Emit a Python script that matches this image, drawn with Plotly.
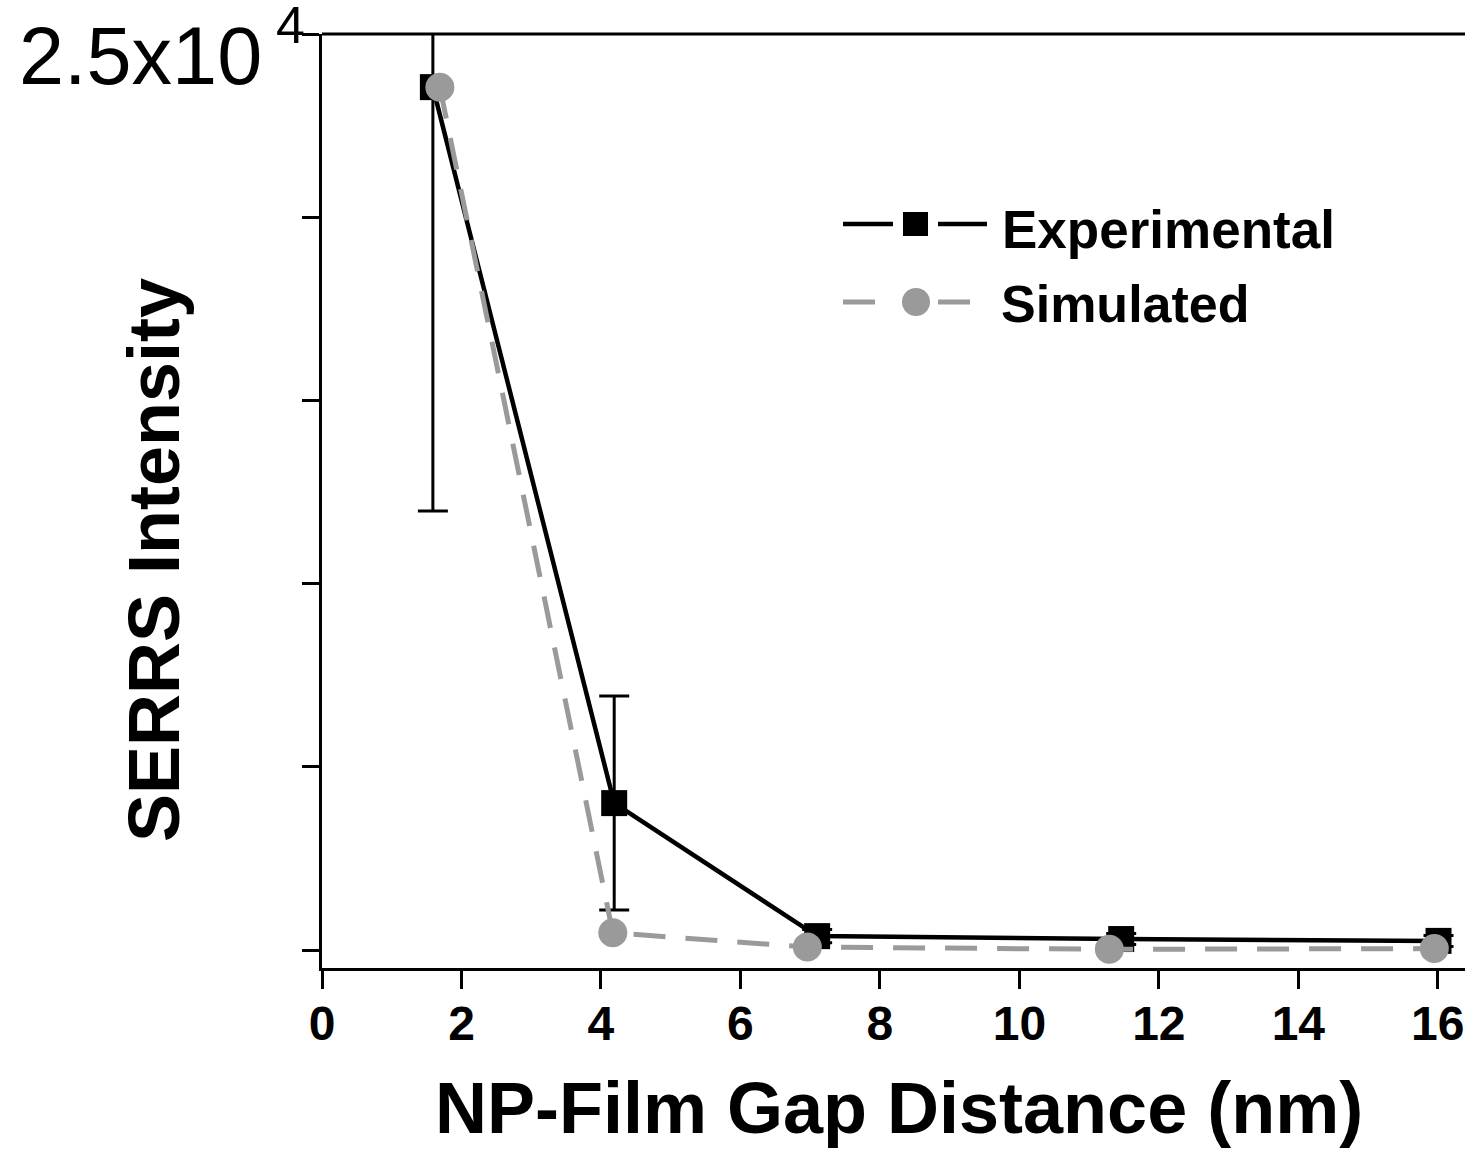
import plotly.graph_objects as go

# ---- data ----
exp_x = [1.59, 4.19, 7.10, 11.46, 16.01]
exp_y = [23550, 4010, 380, 300, 250]
exp_err = [11570, 2920, 180, 150, 150]

sim_x = [1.69, 4.17, 6.96, 11.29, 15.95]
sim_y = [23550, 470, 80, 20, 40]

x_ticks = [0, 2, 4, 6, 8, 10, 12, 14, 16]
y_ticks = [0, 5000, 10000, 15000, 20000, 25000]

W, H = 1468, 1149
L, R, T, B = 322, 3, 34, 181
PW, PH = W - L - R, H - T - B

def px(x):
    return (x - L) / PW

def py(y):
    return (H - B - y) / PH

FONT = "Liberation Sans, Arial, sans-serif"
GRAY = "#9a9a9a"

fig = go.Figure()
fig.add_trace(go.Scatter(
    x=exp_x, y=exp_y, mode="lines+markers", name="Experimental",
    line=dict(color="black", width=4.5),
    marker=dict(symbol="square", size=26, color="black"),
    error_y=dict(type="data", array=exp_err, visible=True, color="black",
                 thickness=3, width=15),
    cliponaxis=True, showlegend=False,
))
fig.add_trace(go.Scatter(
    x=sim_x, y=sim_y, mode="lines+markers", name="Simulated",
    line=dict(color=GRAY, width=5, dash="32px,20px"),
    marker=dict(symbol="circle", size=29, color=GRAY),
    cliponaxis=False, showlegend=False,
))

fig.update_layout(
    width=W, height=H,
    margin=dict(l=L, r=R, t=T, b=B, pad=0),
    plot_bgcolor="white", paper_bgcolor="white",
    font=dict(family=FONT, color="black"),
    showlegend=False,
)
fig.update_xaxes(
    range=[0, 16.39], tickvals=x_ticks, ticktext=[str(v) for v in x_ticks],
    ticks="outside", ticklen=18, tickwidth=3, tickcolor="black",
    showline=True, linewidth=3, linecolor="black", mirror=False,
    showgrid=False, zeroline=False, ticklabelstandoff=-7,
    tickfont=dict(family=FONT, size=48, color="black", weight="bold"),
)
fig.update_yaxes(
    range=[-490, 25000], tickvals=y_ticks, showticklabels=False,
    ticks="outside", ticklen=17, tickwidth=3, tickcolor="black",
    showline=True, linewidth=3, linecolor="black",
    showgrid=False, zeroline=False,
)

# top border line
fig.add_shape(type="line", xref="paper", yref="paper", x0=0, x1=1, y0=1, y1=1,
              line=dict(color="black", width=3))

# axis titles and top tick label
fig.add_annotation(text="NP-Film Gap Distance (nm)", xref="paper", yref="paper",
                   x=px(899), y=py(1108), xanchor="center", yanchor="middle",
                   showarrow=False, font=dict(family=FONT, size=72, weight="bold"))
fig.add_annotation(text="SERRS Intensity", xref="paper", yref="paper",
                   x=px(154), y=py(560), xanchor="center", yanchor="middle",
                   textangle=-90, showarrow=False,
                   font=dict(family=FONT, size=72, weight="bold"))
fig.add_annotation(text="2.5x10", xref="paper", yref="paper",
                   x=px(17), y=py(56), xanchor="left", yanchor="middle",
                   showarrow=False, font=dict(family=FONT, size=81))
fig.add_annotation(text="4", xref="paper", yref="paper",
                   x=px(274), y=py(-6), xanchor="left", yanchor="top",
                   showarrow=False, font=dict(family=FONT, size=52))

# manual legend
def hline(x0, x1, y, color, width=4.5):
    fig.add_shape(type="line", xref="paper", yref="paper",
                  x0=px(x0), x1=px(x1), y0=py(y), y1=py(y),
                  line=dict(color=color, width=width))

hline(843, 893, 224, "black")
hline(938, 987, 224, "black")
fig.add_shape(type="rect", xref="paper", yref="paper",
              x0=px(903), x1=px(928), y0=py(236), y1=py(212),
              fillcolor="black", line=dict(width=0))
fig.add_annotation(text="Experimental", xref="paper", yref="paper",
                   x=px(1000), y=py(229), xanchor="left", yanchor="middle",
                   showarrow=False, font=dict(family=FONT, size=53, weight="bold"))

hline(843, 875, 302, GRAY, 5)
hline(938, 970, 302, GRAY, 5)
fig.add_shape(type="circle", xref="paper", yref="paper",
              x0=px(902), x1=px(930), y0=py(316), y1=py(288),
              fillcolor=GRAY, line=dict(width=0))
fig.add_annotation(text="Simulated", xref="paper", yref="paper",
                   x=px(999), y=py(304), xanchor="left", yanchor="middle",
                   showarrow=False, font=dict(family=FONT, size=52, weight="bold"))

fig.write_html("out.html")
